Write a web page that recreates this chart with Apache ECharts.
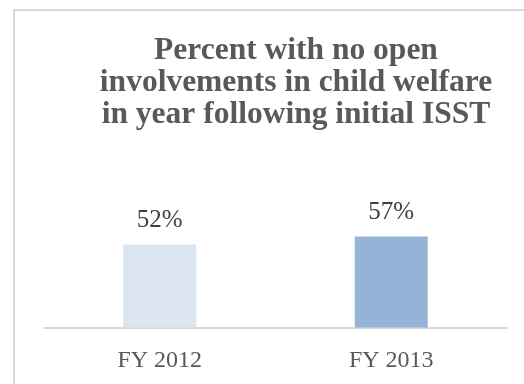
<!DOCTYPE html>
<html>
<head>
<meta charset="utf-8">
<script src="https://cdn.jsdelivr.net/npm/echarts@6/dist/echarts.min.js"></script>
<style>
  html, body { margin: 0; padding: 0; background: #ffffff; }
  #chart { width: 524px; height: 384px; }
</style>
</head>
<body>
<div id="chart"></div>
<script>
// Fiscal years and share of cases with no open child-welfare involvement (%)
const categories = ['FY 2012', 'FY 2013'];
const values = [52, 57];
const barColors = ['#dce6f2', '#95b3d7'];
const titleText = 'Percent with no open\ninvolvements in child welfare\nin year following initial ISST';

const chart = echarts.init(document.getElementById('chart'), null, { renderer: 'canvas' });

chart.setOption({
  animation: false,
  backgroundColor: '#ffffff',
  title: {
    text: titleText,
    left: 296,
    textAlign: 'center',
    top: 35,
    padding: 0,
    textStyle: {
      fontFamily: 'Liberation Serif',
      fontWeight: 'bold',
      fontSize: 31.5,
      lineHeight: 32,
      color: '#595959'
    }
  },
  graphic: [{
    type: 'rect',
    silent: true,
    shape: { x: 14, y: 10, width: 700, height: 600 },
    style: { fill: 'none', stroke: '#d9d9d9', lineWidth: 2 }
  }],
  grid: { left: 44, right: 17, top: 168, bottom: 56.5 },
  xAxis: {
    type: 'category',
    data: categories,
    axisLine: { show: true, lineStyle: { color: '#d9d9d9', width: 2 } },
    axisTick: { show: false },
    axisLabel: {
      margin: 21,
      fontFamily: 'Liberation Serif',
      fontSize: 24,
      color: '#595959'
    }
  },
  yAxis: {
    type: 'value',
    min: 0,
    max: 100,
    show: false,
    splitLine: { show: false }
  },
  series: [{
    type: 'bar',
    barWidth: 73,
    data: values.map((v, i) => ({ value: v, itemStyle: { color: barColors[i] } })),
    label: {
      show: true,
      position: 'top',
      distance: 12,
      formatter: p => p.value + '%',
      fontFamily: 'Liberation Serif',
      fontSize: 25,
      color: '#404040'
    }
  }]
});
</script>
</body>
</html>
